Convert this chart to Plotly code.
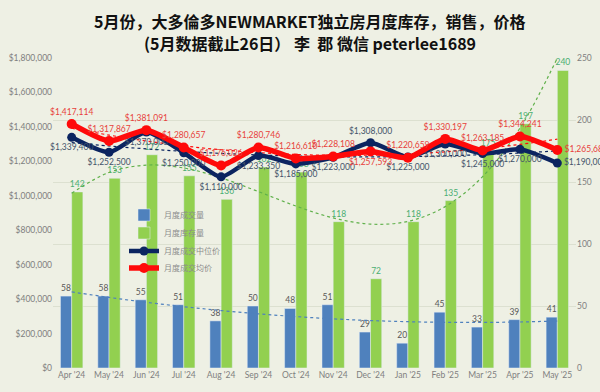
import numpy as np
import plotly.graph_objects as go

months = ["Apr '24", "May '24", "Jun '24", "Jul '24", "Aug '24", "Sep '24", "Oct '24",
          "Nov '24", "Dec '24", "Jan '25", "Feb '25", "Mar '25", "Apr '25", "May '25"]
sales = [58, 58, 55, 51, 38, 50, 48, 51, 29, 20, 45, 33, 39, 41]
inventory = [142, 153, 172, 155, 136, 162, 158, 118, 72, 118, 135, 175, 197, 240]
median_price = [1339400, 1252500, 1370000, 1250000, 1110000, 1233350, 1185000,
                1223000, 1308000, 1225000, 1300000, 1245000, 1270000, 1190000]
avg_price = [1417114, 1317867, 1381091, 1280657, 1176026, 1280746, 1216610,
             1228108, 1257593, 1220659, 1330197, 1263185, 1344241, 1265683]

names = ["月度成交量", "月度库存量", "月度成交中位价", "月度成交均价"]
title_lines = ["5月份，大多倫多NEWMARKET独立房月度库存，销售，价格",
               "(5月数据截止26日） 李  郡 微信 peterlee1689"]

BG = "#EEF0E4"
BLUE = "#4F81BD"
GREEN = "#92D050"
NAVY = "#0B2460"
RED = "#FF0A0A"
NUMF = "Lato, 'Noto Sans', sans-serif"
CJK = "'Noto Sans CJK SC', sans-serif"

xs = list(range(len(months)))

def trend(vals, deg):
    c = np.polyfit(np.arange(1, len(vals) + 1), vals, deg)
    return list(np.polyval(c, np.arange(1, len(vals) + 1)))

fig = go.Figure()

fig.add_trace(go.Bar(x=xs, y=sales, name=names[0], marker_color=BLUE,
                     text=[str(v) for v in sales], textposition="outside",
                     textfont=dict(color="#595959", size=8.5, family=NUMF),
                     constraintext="none", cliponaxis=False, yaxis="y", legend="legend"))
fig.add_trace(go.Bar(x=xs, y=inventory, name=names[1], marker_color=GREEN,
                     text=[str(v) for v in inventory], textposition="outside",
                     textfont=dict(color="#4AAE72", size=8.5, family=NUMF),
                     constraintext="none", cliponaxis=False, yaxis="y", legend="legend2"))

# trendlines
fig.add_trace(go.Scatter(x=xs, y=trend(sales, 2), mode="lines", line=dict(color=BLUE, width=1.2, dash="dot", shape="spline"),
                         showlegend=False, hoverinfo="skip", yaxis="y"))
fig.add_trace(go.Scatter(x=xs, y=trend(inventory, 3), mode="lines", line=dict(color="#5FB04A", width=1.2, dash="dot", shape="spline"),
                         showlegend=False, hoverinfo="skip", yaxis="y"))
fig.add_trace(go.Scatter(x=xs, y=trend(median_price, 2), mode="lines", line=dict(color=NAVY, width=1.2, dash="dot", shape="spline"),
                         showlegend=False, hoverinfo="skip", yaxis="y2"))
fig.add_trace(go.Scatter(x=xs, y=trend(avg_price, 2), mode="lines", line=dict(color=RED, width=1.2, dash="dot", shape="spline"),
                         showlegend=False, hoverinfo="skip", yaxis="y2"))

navy_pos = ["bottom center"] * 14
navy_pos[8] = "top center"
navy_pos[13] = "middle right"
red_pos = ["top center"] * 14
red_pos[8] = "bottom center"
red_pos[13] = "middle right"

fig.add_trace(go.Scatter(x=xs, y=median_price, name=names[2], mode="lines+markers+text",
                         line=dict(color=NAVY, width=4.5, shape="spline", smoothing=0.6),
                         marker=dict(color=NAVY, size=9),
                         text=[f"${v:,}" for v in median_price], textposition=navy_pos,
                         textfont=dict(color="#44546A", size=8.5, family=NUMF),
                         cliponaxis=False, yaxis="y2", legend="legend3"))
fig.add_trace(go.Scatter(x=xs, y=avg_price, name=names[3], mode="lines+markers+text",
                         line=dict(color=RED, width=5.5, shape="spline", smoothing=0.6),
                         marker=dict(color=RED, size=10),
                         text=[f"${v:,}" for v in avg_price], textposition=red_pos,
                         textfont=dict(color="#E8403A", size=8.5, family=NUMF),
                         cliponaxis=False, yaxis="y2", legend="legend4"))

def leg(ypix):
    return dict(x=(124 - 53) / 523, y=(368 - ypix) / 310, xanchor="left", yanchor="middle",
                bgcolor="rgba(0,0,0,0)", font=dict(family=CJK, size=8, color="#8C8C8C"),
                itemwidth=30)

for line, ypix in zip(title_lines, [21, 43]):
    fig.add_annotation(text=f"<b>{line}</b>", xref="paper", yref="paper",
                       x=(310 - 53) / 523, y=(368 - ypix) / 310, xanchor="center", yanchor="middle",
                       showarrow=False, font=dict(family=CJK, size=16, color="#111111"))

fig.update_layout(
    width=600, height=392,
    paper_bgcolor=BG, plot_bgcolor=BG,
    margin=dict(l=53, r=24, t=58, b=24, autoexpand=False),
    barmode="group", bargap=0.4, bargroupgap=0,
    xaxis=dict(range=[-0.5, 13.5], tickmode="array", tickvals=xs, ticktext=months,
               showgrid=False, zeroline=False, showline=False, ticks="", automargin=False,
               tickfont=dict(family=NUMF, size=8.5, color="#7F7F7F")),
    yaxis=dict(side="right", range=[0, 250], dtick=50, showgrid=True, gridcolor="#DCE0D0",
               gridwidth=1, zeroline=False, showline=False, ticks="", automargin=False,
               tickfont=dict(family=NUMF, size=8.5, color="#7F7F7F")),
    yaxis2=dict(side="left", overlaying="y", range=[0, 1800000], dtick=200000,
                tickprefix="$", tickformat=",.0f", showgrid=False, zeroline=False,
                showline=False, ticks="", automargin=False,
                tickfont=dict(family=NUMF, size=8.5, color="#7F7F7F")),
    legend=leg(215), legend2=leg(233), legend3=leg(251), legend4=leg(268),
    showlegend=True,
)

fig.write_html("out.html", config={"displayModeBar": False},
               post_script="document.body.style.margin='0';document.body.style.background='#EEF0E4';")
